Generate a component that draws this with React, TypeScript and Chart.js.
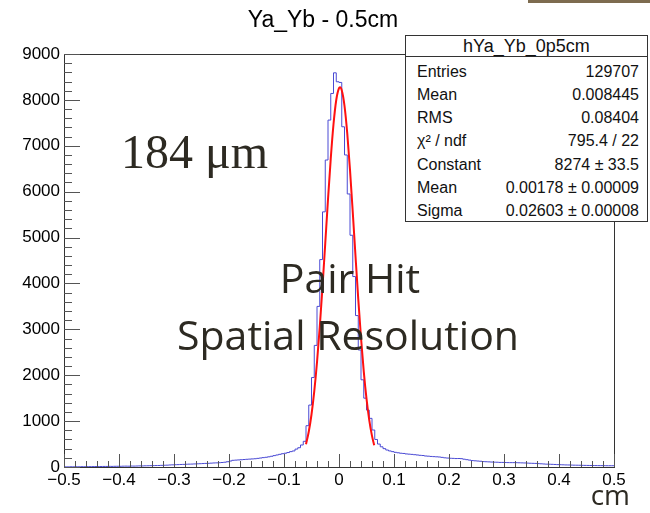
import React, { useEffect, useRef } from 'react';
import { Chart, registerables } from 'chart.js';

Chart.register(...registerables);

// ---------- data ----------
const TITLE = 'Ya_Yb - 0.5cm';
const X_UNIT = 'cm';
const NOTE_VALUE = '184 μm';
const NOTE_LINES = ['Pair Hit', 'Spatial Resolution'];

const BIN_MIN = -0.5;
const BIN_MAX = 0.5;
const BIN_WIDTH = 0.005;

// counts per bin (200 bins of 0.005 cm, from -0.5 to 0.5)
const HIST_COUNTS = [
  3, 4, 3, 5, 4, 6, 5, 7, 6, 8,
  8, 9, 10, 9, 11, 12, 12, 14, 13, 15,
  16, 15, 18, 19, 18, 21, 20, 22, 24, 23,
  26, 27, 29, 30, 32, 33, 36, 38, 40, 44,
  47, 50, 52, 55, 57, 60, 62, 64, 67, 70,
  72, 75, 78, 80, 84, 88, 90, 94, 98, 104,
  115, 130, 146, 150, 154, 158, 163, 168, 172, 176,
  180, 188, 196, 204, 212, 222, 234, 248, 262, 276,
  290, 300, 315, 335, 350, 390, 420, 480, 560, 900,
  1350, 1950, 2650, 3500, 4520, 5560, 6690, 7560, 8140, 8590,
  8395, 8380, 7414, 6800, 5950, 5050, 4150, 3300, 2550, 1900,
  1500, 1240, 1060, 806, 600, 500, 440, 400, 370, 350,
  335, 320, 310, 300, 295, 285, 280, 275, 268, 262,
  255, 250, 240, 236, 230, 226, 222, 218, 210, 200,
  195, 190, 188, 184, 185, 182, 170, 160, 150, 140,
  135, 130, 125, 118, 115, 112, 108, 105, 104, 100,
  100, 98, 96, 95, 95, 94, 92, 90, 88, 85,
  82, 80, 78, 74, 70, 66, 62, 60, 58, 55,
  52, 50, 48, 45, 44, 42, 40, 39, 38, 36,
  35, 34, 33, 32, 31, 30, 30, 29, 28, 28,
];

// gaussian fit curve, sampled
const FIT_X = [
  -0.06, -0.055, -0.05, -0.045, -0.04, -0.035, -0.03, -0.025, -0.02, -0.015,
  -0.01, -0.005, 0, 0.0018, 0.005, 0.01, 0.015, 0.02, 0.025, 0.03,
  0.035, 0.04, 0.045, 0.05, 0.055, 0.06, 0.064,
];
const FIT_Y = [
  495, 767, 1144, 1646, 2282, 3049, 3927, 4874, 5831, 6721,
  7469, 7998, 8255, 8274, 8211, 7872, 7273, 6476, 5558, 4597,
  3665, 2816, 2085, 1488, 1023, 678, 475,
];

const X_TICKS = [-0.5, -0.4, -0.3, -0.2, -0.1, 0, 0.1, 0.2, 0.3, 0.4, 0.5];
const Y_TICKS = [0, 1000, 2000, 3000, 4000, 5000, 6000, 7000, 8000, 9000];

const STATS_TITLE = 'hYa_Yb_0p5cm';
const STATS_LABELS = ['Entries', 'Mean', 'RMS', 'χ² / ndf', 'Constant', 'Mean', 'Sigma'];
const STATS_VALUES = ['129707', '0.008445', '0.08404', '795.4 / 22', '8274 ± 33.5', '0.00178 ± 0.00009', '0.02603 ± 0.00008'];

// ---------- styling ----------
const SANS = '"Liberation Sans", Arial, Helvetica, sans-serif';
const NOTE_COLOR = '#2d2a22';

const formatTick = (v: number) => {
  const r = Math.round(v * 10) / 10;
  const s = (r === 0 ? 0 : r).toString();
  return s.replace('-', '\u2212');
};

const rootFramePlugin = {
  id: 'rootFrame',
  afterDatasetsDraw(chart: any) {
    const { ctx, chartArea, scales } = chart;
    const xs = scales.x;
    const ys = scales.y;
    const left = Math.round(chartArea.left);
    const right = Math.round(chartArea.right);
    const top = Math.round(chartArea.top);
    const bottom = Math.round(chartArea.bottom);
    ctx.save();
    ctx.lineWidth = 1;
    ctx.strokeStyle = '#333';
    ctx.strokeRect(left + 0.5, top + 0.5, right - left, bottom - top);
    ctx.strokeStyle = '#555';
    ctx.beginPath();
    for (let i = 0; i < X_TICKS.length; i++) {
      const px = Math.round(xs.getPixelForValue(X_TICKS[i])) + 0.5;
      ctx.moveTo(px, bottom);
      ctx.lineTo(px, bottom - 13);
      if (i < X_TICKS.length - 1) {
        const step = (X_TICKS[i + 1] - X_TICKS[i]) / 5;
        for (let k = 1; k < 5; k++) {
          const mx = Math.round(xs.getPixelForValue(X_TICKS[i] + k * step)) + 0.5;
          ctx.moveTo(mx, bottom);
          ctx.lineTo(mx, bottom - 6);
        }
      }
    }
    for (let i = 0; i < Y_TICKS.length; i++) {
      const py = Math.round(ys.getPixelForValue(Y_TICKS[i])) + 0.5;
      ctx.moveTo(left, py);
      ctx.lineTo(left + 16, py);
      if (i < Y_TICKS.length - 1) {
        const step = (Y_TICKS[i + 1] - Y_TICKS[i]) / 5;
        for (let k = 1; k < 5; k++) {
          const my = Math.round(ys.getPixelForValue(Y_TICKS[i] + k * step)) + 0.5;
          ctx.moveTo(left, my);
          ctx.lineTo(left + 8, my);
        }
      }
    }
    ctx.stroke();
    ctx.restore();
  },
};

function HistChart() {
  const canvasRef = useRef<HTMLCanvasElement | null>(null);

  useEffect(() => {
    if (!canvasRef.current) return;
    const histPoints = HIST_COUNTS.map((c, i) => ({ x: BIN_MIN + i * BIN_WIDTH, y: c }));
    histPoints.push({ x: BIN_MAX, y: HIST_COUNTS[HIST_COUNTS.length - 1] });
    const fitPoints = FIT_X.map((x, i) => ({ x, y: FIT_Y[i] }));

    const chart = new Chart(canvasRef.current, {
      type: 'line',
      data: {
        datasets: [
          {
            label: 'fit',
            data: fitPoints,
            borderColor: '#ff1010',
            borderWidth: 2,
            pointRadius: 0,
            cubicInterpolationMode: 'monotone',
            fill: false,
          },
          {
            label: STATS_TITLE,
            data: histPoints,
            borderColor: '#4a4ad4',
            borderWidth: 1,
            pointRadius: 0,
            stepped: 'after',
            fill: false,
          },
        ],
      },
      options: {
        animation: false,
        responsive: false,
        devicePixelRatio: 1,
        layout: { padding: { top: 54, right: 36, left: 0, bottom: 0 } },
        plugins: {
          legend: { display: false },
          title: { display: false },
          tooltip: { enabled: false },
        },
        scales: {
          x: {
            type: 'linear',
            min: BIN_MIN,
            max: BIN_MAX,
            grid: { display: false, drawTicks: false },
            border: { display: false },
            afterBuildTicks: (s: any) => {
              s.ticks = X_TICKS.map((v) => ({ value: v }));
            },
            afterFit: (s: any) => {
              s.height = 46;
            },
            ticks: {
              autoSkip: false,
              maxRotation: 0,
              padding: 3,
              color: '#000',
              font: { family: SANS, size: 17 },
              callback: (v: any) => formatTick(Number(v)),
            },
          },
          y: {
            type: 'linear',
            min: 0,
            max: 9000,
            grid: { display: false, drawTicks: false },
            border: { display: false },
            afterBuildTicks: (s: any) => {
              s.ticks = Y_TICKS.map((v) => ({ value: v }));
            },
            afterFit: (s: any) => {
              s.width = 64;
            },
            ticks: {
              autoSkip: false,
              padding: 4,
              color: '#000',
              font: { family: SANS, size: 17 },
              callback: (v: any) => String(v),
            },
          },
        },
      },
      plugins: [rootFramePlugin],
    } as any);

    return () => chart.destroy();
  }, []);

  return <canvas ref={canvasRef} width={650} height={513} style={{ position: 'absolute', left: 0, top: 0 }} />;
}

function StatsBox() {
  const rowH = 23.1;
  return (
    <div
      style={{
        position: 'absolute',
        left: 405,
        top: 35,
        width: 243,
        height: 187,
        border: '1px solid #333',
        boxSizing: 'border-box',
        background: '#fff',
        fontFamily: SANS,
        color: '#111',
      }}
    >
      <div
        style={{
          height: 20,
          borderBottom: '1px solid #333',
          textAlign: 'center',
          fontSize: 18,
          lineHeight: '21px',
          whiteSpace: 'nowrap',
        }}
      >
        {STATS_TITLE}
      </div>
      {STATS_LABELS.map((lab, i) => (
        <div
          key={i}
          style={{
            position: 'absolute',
            left: 11,
            right: 8,
            top: 71.6 + i * rowH - 36 - 11.5,
            height: 23,
            lineHeight: '23px',
            fontSize: 16,
            display: 'flex',
            justifyContent: 'space-between',
            whiteSpace: 'nowrap',
          }}
        >
          <span>{lab}</span>
          <span>{STATS_VALUES[i]}</span>
        </div>
      ))}
    </div>
  );
}

export default function App() {
  return (
    <div
      style={{
        position: 'absolute',
        left: 0,
        top: 0,
        width: 650,
        height: 513,
        background: '#fff',
        overflow: 'hidden',
      }}
    >
      <HistChart />
      <div style={{ position: 'absolute', left: 528, top: 0, width: 122, height: 3, background: '#7d6b4f' }} />
      <div
        style={{
          position: 'absolute',
          left: 323,
          top: 7.5,
          transform: 'translateX(-50%)',
          fontFamily: SANS,
          fontSize: 23,
          lineHeight: 1,
          color: '#000',
          whiteSpace: 'nowrap',
        }}
      >
        {TITLE}
      </div>
      <StatsBox />
      <div
        style={{
          position: 'absolute',
          left: 121,
          top: 128,
          fontFamily: '"Liberation Serif", "Times New Roman", serif',
          fontSize: 48,
          lineHeight: 1,
          color: NOTE_COLOR,
          whiteSpace: 'nowrap',
        }}
      >
        {NOTE_VALUE}
      </div>
      {NOTE_LINES.map((t, i) => (
        <div
          key={i}
          style={{
            position: 'absolute',
            left: i === 0 ? 350 : 348,
            top: i === 0 ? 256.6 : 313.6,
            transform: 'translateX(-50%)',
            fontFamily: '"Open Sans", sans-serif',
            fontSize: 41,
            lineHeight: 1,
            color: NOTE_COLOR,
            whiteSpace: 'nowrap',
          }}
        >
          {t}
        </div>
      ))}
      <div
        style={{
          position: 'absolute',
          right: 20,
          top: 480,
          fontFamily: '"Open Sans", sans-serif',
          fontSize: 28,
          lineHeight: 1,
          color: NOTE_COLOR,
          whiteSpace: 'nowrap',
        }}
      >
        {X_UNIT}
      </div>
    </div>
  );
}
